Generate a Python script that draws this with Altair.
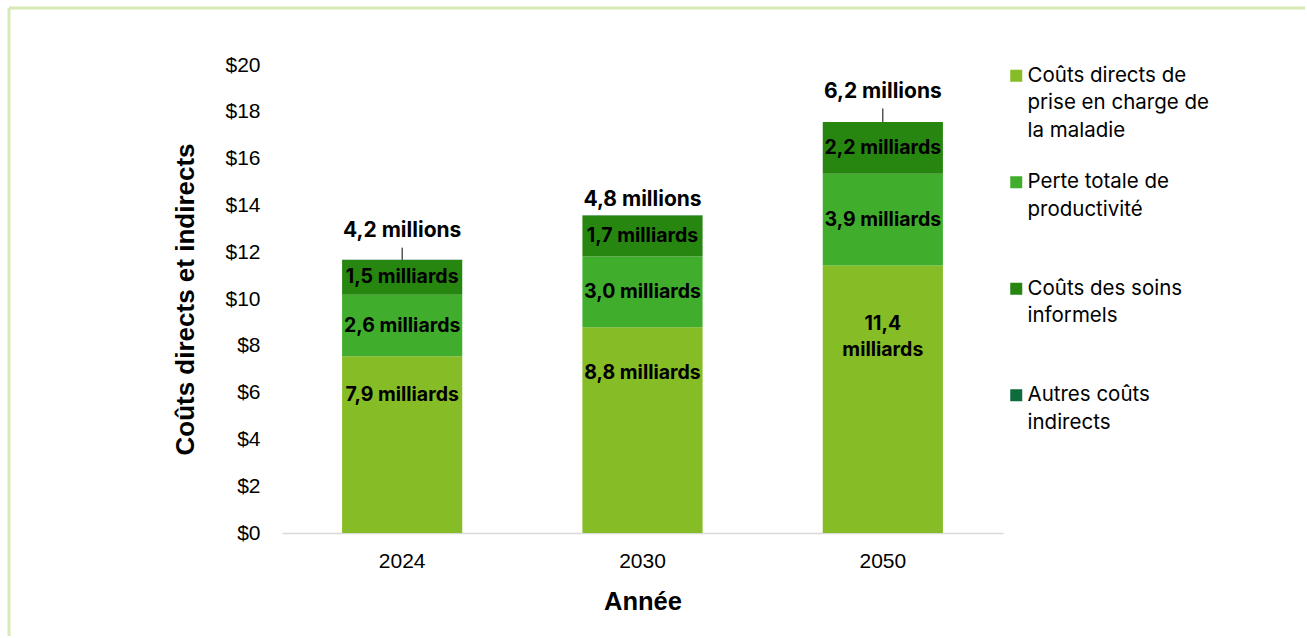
import altair as alt
import pandas as pd

# ---------------- data ----------------
years = ["2024", "2030", "2050"]
series = [
    "Coûts directs de prise en charge de la maladie",
    "Perte totale de productivité",
    "Coûts des soins informels",
    "Autres coûts indirects",
]
legend_lines = [
    ["Coûts directs de", "prise en charge de", "la maladie"],
    ["Perte totale de", "productivité", " "],
    ["Coûts des soins", "informels", " "],
    ["Autres coûts", "indirects", " "],
]
colors = ["#86BC25", "#40AE2C", "#26860F", "#0E6B3B"]

# bar segment heights (billions $) as drawn
direct = [7.55, 8.79, 11.43]
productivity = [2.63, 3.03, 3.92]
informal = [1.49, 1.75, 2.21]
other = [0.0042, 0.0048, 0.0062]

direct_lbl = ["7,9 milliards", "8,8 milliards", "11,4\nmilliards"]
productivity_lbl = ["2,6 milliards", "3,0 milliards", "3,9 milliards"]
informal_lbl = ["1,5 milliards", "1,7 milliards", "2,2 milliards"]
other_lbl = ["4,2 millions", "4,8 millions", "6,2 millions"]

# callout gap above each bar for the "millions" label (in axis units)
callout_gap = [1.22, 0.64, 1.28]

# ---------------- tables ----------------
rows = []
for i, yr in enumerate(years):
    vals = [direct[i], productivity[i], informal[i], other[i]]
    lbls = [direct_lbl[i], productivity_lbl[i], informal_lbl[i], other_lbl[i]]
    base = 0.0
    for k, (s, v, l) in enumerate(zip(series, vals, lbls)):
        y0, y1 = base, base + v
        if k == 0:
            ly = y0 + 0.78 * v
        else:
            ly = (y0 + y1) / 2
        rows.append(dict(year=yr, series=s, order=k, y0=y0, y1=y1, label=l, label_y=ly))
        base = y1
df = pd.DataFrame(rows)

seg_labels = df[df["order"] < 3]
tops = df[df["order"] == 3].copy()
tops["gap"] = callout_gap
tops["label_top"] = tops["y1"] + tops["gap"]
tops["lead_end"] = tops["label_top"] - 0.7
leaders = tops[tops["gap"] > 1.0]

# legend label expression (multi-line)
expr = "null"
for s, lines in reversed(list(zip(series, legend_lines))):
    arr = "[" + ",".join("'" + t + "'" for t in lines) + "]"
    expr = f"datum.label == '{s}' ? {arr} : ({expr})"

AX_FONT = "Liberation Sans"
TXT_FONT = "Inter"

x_enc = alt.X(
    "year:N",
    sort=years,
    scale=alt.Scale(paddingInner=0.5, paddingOuter=0.25),
    axis=alt.Axis(
        title="Année",
        labelAngle=0,
        ticks=False,
        domainColor="#D9D9D9",
        domainWidth=1.5,
        labelFont=AX_FONT,
        labelFontSize=21,
        labelColor="#000000",
        labelPadding=17,
        titleFont=AX_FONT,
        titleFontSize=25.5,
        titleFontWeight="bold",
        titleColor="#000000",
        titlePadding=18,
    ),
)
y_scale = alt.Scale(domain=[0, 20], nice=False)
y_enc = alt.Y(
    "y0:Q",
    scale=y_scale,
    axis=alt.Axis(
        title="Coûts directs et indirects",
        values=list(range(0, 21, 2)),
        labelExpr="'$' + datum.value",
        grid=False,
        ticks=False,
        domain=False,
        labelFont=AX_FONT,
        labelFontSize=21,
        labelColor="#000000",
        labelPadding=22,
        titleFont=AX_FONT,
        titleFontSize=26,
        titleFontWeight="bold",
        titleColor="#000000",
        titlePadding=26,
    ),
)

bars = alt.Chart(df).mark_bar().encode(
    x=x_enc,
    y=y_enc,
    y2="y1:Q",
    color=alt.Color(
        "series:N",
        scale=alt.Scale(domain=series, range=colors),
        legend=alt.Legend(
            title=None,
            orient="none",
            legendX=724,
            legendY=0.5,
            padding=0,
            labelExpr=expr,
            labelFont=TXT_FONT,
            labelFontSize=20.5,
            labelColor="#000000",
            labelOffset=1,
            labelLimit=400,
            rowPadding=30.5,
            symbolType="square",
            symbolSize=144,
            symbolStrokeWidth=0,
            symbolOpacity=1,
        ),
    ),
    order=alt.Order("order:Q"),
)

seg_text = alt.Chart(seg_labels).mark_text(
    font=TXT_FONT, fontSize=19.5, fontWeight="bold", color="#000000",
    lineBreak="\n", lineHeight=26, baseline="middle",
).encode(
    x=alt.X("year:N", sort=years),
    y=alt.Y("label_y:Q", scale=y_scale),
    text="label:N",
)

top_text = alt.Chart(tops).mark_text(
    font=TXT_FONT, fontSize=21, fontWeight="bold", color="#000000", baseline="middle",
).encode(
    x=alt.X("year:N", sort=years),
    y=alt.Y("label_top:Q", scale=y_scale),
    text="label:N",
)

lead = alt.Chart(leaders).mark_rule(color="#000000", strokeWidth=1).encode(
    x=alt.X("year:N", sort=years),
    y=alt.Y("y1:Q", scale=y_scale),
    y2="lead_end:Q",
)

frame_df = pd.DataFrame({"f": [0]})
frame_top = alt.Chart(frame_df).mark_rule(color="#D5EAB6", strokeWidth=3).encode(
    x=alt.value(-273), x2=alt.value(1023), y=alt.value(-57)
)
frame_left = alt.Chart(frame_df).mark_rule(color="#D5EAB6", strokeWidth=3).encode(
    x=alt.value(-273), y=alt.value(-57), y2=alt.value(571)
)

chart = (
    alt.layer(frame_top, frame_left, bars, seg_text, top_text, lead)
    .properties(
        width=721,
        height=468,
        padding={"left": 7, "top": 6, "right": 0, "bottom": 0},
        background="#FFFFFF",
    )
    .configure(style={"guide-label": {"lineHeight": 27.5}})
    .configure_view(stroke=None)
)

chart.save("out.html", embed_options={"renderer": "svg", "actions": False})
